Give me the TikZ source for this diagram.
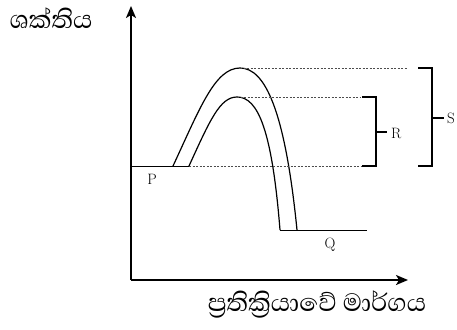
\documentclass[tikz,border=0pt]{standalone}
\usepackage{fontspec}
\newfontfamily\sinhalafont[Script=Sinhala]{Abhaya Libre}
\usetikzlibrary{arrows.meta}

\begin{document}
\begin{tikzpicture}[
    x=1pt, y=-1pt,
    >={Stealth[length=12pt, width=10pt, inset=3pt]},
    axis/.style={->, line width=1.7pt},
    curve/.style={line width=1.2pt},
    level/.style={line width=1pt},
    guide/.style={line width=0.6pt, dash pattern=on 2pt off 1.5pt, black!70},
    brace/.style={line width=1.1pt},
    lbl/.style={font=\fontsize{15}{17}\selectfont, inner sep=0pt},
    sinh/.style={font=\sinhalafont\fontsize{32}{38}\selectfont, inner sep=0pt}
]
\useasboundingbox (0,0) rectangle (457,329);

%% ─── AXES ────────────────────────────────────────────────────────────────

\coordinate (org)  at (131,280);
\coordinate (ytip) at (131,6);
\coordinate (xtip) at (408,280);

\draw[axis] (org) -- (ytip);
\draw[axis] (org) -- (xtip);

\node[sinh] (ylab) at (51,18)  {ශක්තිය};
\node[sinh] (xlab) at (317,304) {ප්^^^^200dරතික්^^^^200dරියාවේ මාර්ගය};

%% ─── ENERGY PROFILE ──────────────────────────────────────────────────────

\coordinate (pL)   at (131,166);
\coordinate (pO)   at (173,166);
\coordinate (pI)   at (189,166);
\coordinate (topO) at (240,68);
\coordinate (topI) at (237,97);
\coordinate (qI)   at (280,230);
\coordinate (qO)   at (297,230);
\coordinate (qR)   at (367,230);

\draw[level] (pL) -- (pI);
\draw[level] (qI) -- (qR);

% outer hump (S)
\draw[curve] (pO) .. controls (200,108) and (215,68) .. (topO)
                  .. controls (265,68) and (285,110) .. (qO);
% inner hump (R)
\draw[curve] (pI) .. controls (210,120) and (220,97) .. (topI)
                  .. controls (258,97) and (272,130) .. (qI);

\node[lbl] (P) at (152,179) {P};
\node[lbl] (Q) at (330,245) {Q};

%% ─── GUIDE LINES ─────────────────────────────────────────────────────────

\coordinate (gS) at (407,68);
\coordinate (gR) at (360,97);
\coordinate (gP) at (370,166);

\draw[guide] (topO) -- (gS);
\draw[guide] (topI) -- (gR);
\draw[guide] (pI)   -- (gP);

%% ─── BRACKETS ────────────────────────────────────────────────────────────

% R
\draw[brace] (362,97) -- (376,97) -- (376,166) -- (362,166);
\draw[brace] (376,132) -- (387,132);
\node[lbl, anchor=west] (R) at (391,133) {R};

% S
\draw[brace] (418,68) -- (432,68) -- (432,166) -- (418,166);
\draw[brace] (432,118) -- (444,118);
\node[lbl, anchor=west] (S) at (447,118) {S};

\end{tikzpicture}
\end{document}
